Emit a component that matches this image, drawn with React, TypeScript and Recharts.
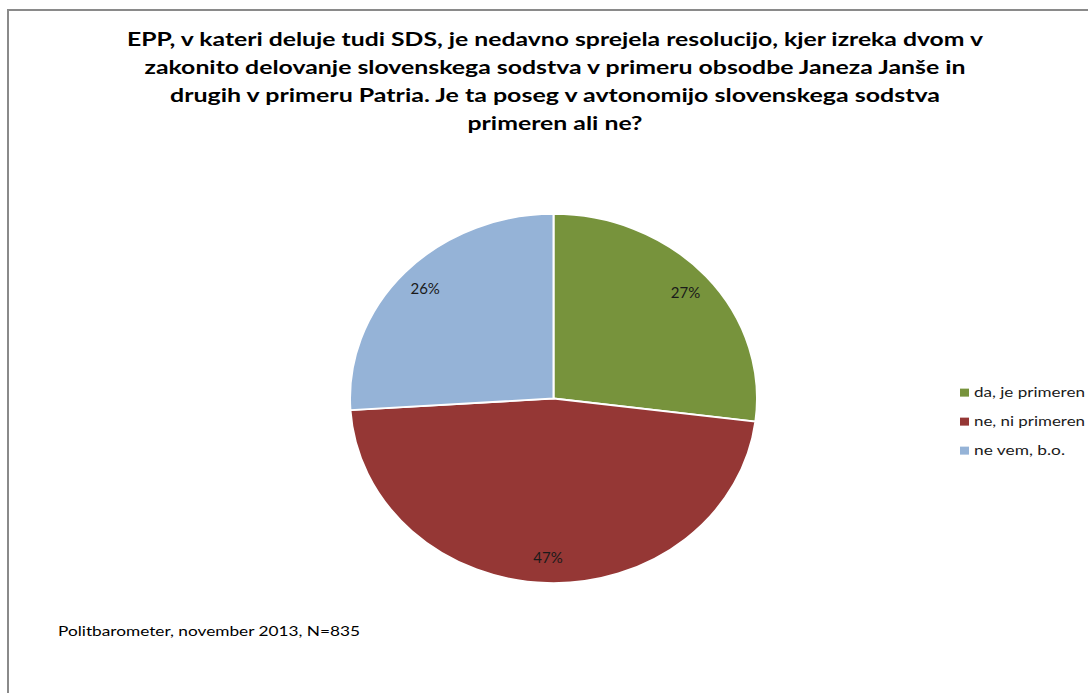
import React from 'react';
import { PieChart, Pie, Cell, Legend } from 'recharts';

const categories = ['da, je primeren', 'ne, ni primeren', 'ne vem, b.o.'];
const shares = [27, 47, 26];
const sliceColors = ['#77933C', '#953735', '#95B3D7'];

const titleLines = [
  'EPP, v kateri deluje tudi SDS, je nedavno sprejela resolucijo, kjer izreka dvom v',
  'zakonito delovanje slovenskega sodstva v primeru obsodbe Janeza Janše in',
  'drugih v primeru Patria. Je ta poseg v avtonomijo slovenskega sodstva',
  'primeren ali ne?',
];
const titleWidths = [856, 821, 770, 175];
const sourceNote = 'Politbarometer, november 2013, N=835';

const pieData = categories.map((name, i) => ({ name, value: shares[i], color: sliceColors[i] }));

// the original pie is a slightly squashed ellipse, so the chart is scaled vertically
const Y_SCALE = 0.907;
const CY = 398.5;
const RAD = Math.PI / 180;

const renderLabel = (props: any) => {
  const { cx, cy, midAngle, outerRadius, value } = props;
  const r = outerRadius * 0.865;
  const x = cx + r * Math.cos(-midAngle * RAD);
  const y = cy + r * Math.sin(-midAngle * RAD);
  return (
    <g transform={`translate(${x}, ${y}) scale(1, ${1 / Y_SCALE})`}>
      <text x={0} y={0} dy="0.35em" textAnchor="middle" fill="#1a1a1a" fontSize={15} fontFamily="Lato, 'Open Sans', sans-serif">
        {value}%
      </text>
    </g>
  );
};

const legendWidths = [111, 111, 91];

const renderLegend = () => (
  <svg width={130} height={90} style={{ display: 'block' }}>
    {pieData.map((d, i) => (
      <g key={d.name} transform={`translate(0, ${i * 29})`}>
        <rect x={2} y={6} width={9} height={8} fill={d.color} />
        <text x={16} y={14.5} fontSize={13} fontFamily="Lato, 'Open Sans', sans-serif" fill="#1a1a1a"
          textLength={legendWidths[i]} lengthAdjust="spacingAndGlyphs">
          {d.name}
        </text>
      </g>
    ))}
  </svg>
);

const legendTop = CY + (383 - CY) / Y_SCALE;

export default function App() {
  return (
    <div style={{ position: 'fixed', left: 0, top: 0, width: 1088, height: 693, overflow: 'hidden', background: '#fff' }}>
      <div style={{ position: 'absolute', left: 7, top: 9, width: 1200, height: 800, borderTop: '2px solid #8a8a8a', borderLeft: '2px solid #8a8a8a' }} />
      <div style={{ position: 'absolute', left: 0, top: 0, transform: `scaleY(${Y_SCALE})`, transformOrigin: `0 ${CY}px` }}>
        <PieChart width={1088} height={760} margin={{ top: 0, right: 0, bottom: 0, left: 0 }}>
          <Pie
            data={pieData}
            dataKey="value"
            nameKey="name"
            cx={553.5}
            cy={CY}
            outerRadius={203.5}
            startAngle={90}
            endAngle={-270}
            stroke="#ffffff"
            strokeWidth={2}
            label={renderLabel}
            labelLine={false}
            isAnimationActive={false}
          >
            {pieData.map((d) => (
              <Cell key={d.name} fill={d.color} />
            ))}
          </Pie>
          <Legend
            content={renderLegend}
            layout="vertical"
            wrapperStyle={{ position: 'absolute', left: 958, top: legendTop, width: 130, transform: `scaleY(${1 / Y_SCALE})`, transformOrigin: '0 0' }}
          />
        </PieChart>
      </div>
      <svg width={1088} height={693} style={{ position: 'absolute', left: 0, top: 0, pointerEvents: 'none' }}>
        {titleLines.map((line, i) => (
          <text key={i} x={555} y={46 + i * 28} textAnchor="middle" fontSize={19.5} fontWeight="bold"
            fontFamily="Lato, 'Open Sans', sans-serif" fill="#000" textLength={titleWidths[i]} lengthAdjust="spacingAndGlyphs">
            {line}
          </text>
        ))}
        <text x={58} y={636} fontSize={13.5} fontFamily="Lato, 'Open Sans', sans-serif" fill="#000"
          textLength={302} lengthAdjust="spacingAndGlyphs">
          {sourceNote}
        </text>
      </svg>
    </div>
  );
}
